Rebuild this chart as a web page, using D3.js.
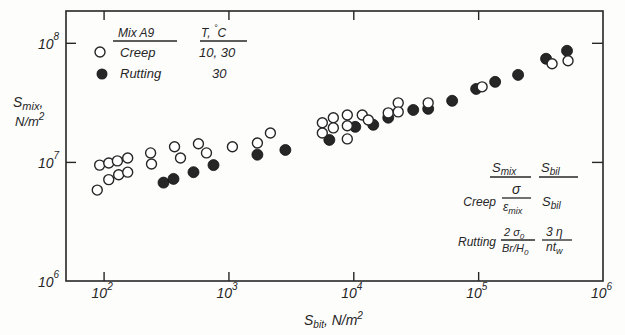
<!DOCTYPE html>
<html>
<head>
<meta charset="utf-8">
<style>
  body { margin: 0; background: #fdfdfc; }
  svg text { font-family: "Liberation Sans", Arial, sans-serif; font-style: italic; fill: #262626; }
</style>
</head>
<body>
<svg id="chart" width="625" height="335"></svg>
<script src="https://cdn.jsdelivr.net/npm/d3@7"></script>
<script>
// S_bit (N/m^2) and S_mix (N/m^2)
const creepSbit = [89, 110, 132, 156, 93, 110, 129, 156, 238, 242, 370, 413, 575, 667, 1076, 1706, 2168,
                   5650, 6920, 8955, 11800, 13200, 5650, 6920, 8955, 8955, 19050, 22900, 22900, 39800, 107600, 391000, 525000];
const creepSmix = [5.8e6, 7.1e6, 7.8e6, 8.2e6, 9.4e6, 9.8e6, 1.02e7, 1.08e7, 1.19e7, 9.6e6, 1.34e7, 1.08e7, 1.42e7, 1.19e7, 1.34e7, 1.44e7, 1.75e7,
                   2.13e7, 2.35e7, 2.48e7, 2.48e7, 2.25e7, 1.75e7, 1.93e7, 2.01e7, 1.56e7, 2.58e7, 3.13e7, 2.63e7, 3.13e7, 4.27e7, 6.67e7, 7.06e7];
const ruttingSbit = [302, 363, 525, 759, 1706, 2858, 6430, 10370, 14450, 19050, 30200, 39800, 61900, 96400, 136800, 208900, 350000, 515000];
const ruttingSmix = [6.7e6, 7.2e6, 8.2e6, 9.4e6, 1.15e7, 1.26e7, 1.53e7, 1.97e7, 2.05e7, 2.35e7, 2.73e7, 2.79e7, 3.26e7, 4.1e7, 4.7e7, 5.38e7, 7.35e7, 8.57e7];

const xTicks = [1e2, 1e3, 1e4, 1e5, 1e6];
const yTicks = [1e6, 1e7, 1e8];

const svg = d3.select("#chart");
const x = d3.scaleLog().domain([50, 1e6]).range([66, 603]);
const y = d3.scaleLog().domain([1e6, 1.85e8]).range([281, 11]);
const ink = "#262626";
const exp = v => Math.round(Math.log10(v));

// frame
svg.append("rect")
  .attr("x", x.range()[0]).attr("y", y.range()[1])
  .attr("width", x.range()[1] - x.range()[0]).attr("height", y.range()[0] - y.range()[1])
  .attr("fill", "none").attr("stroke", ink).attr("stroke-width", 1.6);

// inward ticks on all four sides
const inner = xTicks.filter(t => t < 1e6);
const innerY = yTicks.filter(t => t > 1e6);
const tickAxes = [
  [d3.axisBottom(x).tickValues(inner), `translate(0,${y.range()[0]})`, -9],
  [d3.axisTop(x).tickValues(inner), `translate(0,${y.range()[1]})`, -9],
  [d3.axisLeft(y).tickValues(innerY), `translate(${x.range()[0]},0)`, -10],
  [d3.axisRight(y).tickValues(innerY), `translate(${x.range()[1]},0)`, -11]
];
tickAxes.forEach(([ax, tr, sz]) => {
  const g = svg.append("g").attr("transform", tr)
    .call(ax.tickSize(sz).tickFormat(""));
  g.select(".domain").remove();
  g.selectAll("line").attr("stroke", ink).attr("stroke-width", 1.4);
});

// tick labels 10^n
const xl = svg.append("g").selectAll("text").data(xTicks).join("text")
  .attr("x", d => x(d) - 12).attr("y", 298).attr("font-size", 14);
xl.append("tspan").text("10");
xl.append("tspan").attr("dy", -8).attr("font-size", 10).text(d => exp(d));

const yl = svg.append("g").selectAll("text").data(yTicks).join("text")
  .attr("x", 38).attr("y", d => y(d) + 6).attr("font-size", 14);
yl.append("tspan").text("10");
yl.append("tspan").attr("dy", -9).attr("font-size", 10).text(d => exp(d));

// axis titles
const yt = svg.append("text").attr("x", 13).attr("y", 107).attr("font-size", 14);
yt.append("tspan").text("S");
yt.append("tspan").attr("dy", 3).attr("font-size", 11).text("mix");
yt.append("tspan").attr("dy", -3).text(",");
const yt2 = svg.append("text").attr("x", 15).attr("y", 126).attr("font-size", 13);
yt2.append("tspan").text("N/m");
yt2.append("tspan").attr("dy", -6).attr("font-size", 10).text("2");

const xt = svg.append("text").attr("x", 304).attr("y", 325).attr("font-size", 14);
xt.append("tspan").text("S");
xt.append("tspan").attr("dy", 3).attr("font-size", 10).text("bit");
xt.append("tspan").attr("dy", -3).text(", N/m");
xt.append("tspan").attr("dy", -6).attr("font-size", 10).text("2");

// points: filled first, open on top
svg.append("g").selectAll("circle").data(d3.zip(ruttingSbit, ruttingSmix)).join("circle")
  .attr("cx", d => x(d[0])).attr("cy", d => y(d[1])).attr("r", 5.5)
  .attr("fill", ink).attr("stroke", "#111").attr("stroke-width", 0.8);
svg.append("g").selectAll("circle").data(d3.zip(creepSbit, creepSmix)).join("circle")
  .attr("cx", d => x(d[0])).attr("cy", d => y(d[1])).attr("r", 5)
  .attr("fill", "#fff").attr("stroke", ink).attr("stroke-width", 1.4);

// legend
const lg = svg.append("g");
lg.append("text").attr("x", 118).attr("y", 37).attr("font-size", 12).text("Mix A9");
lg.append("line").attr("x1", 113).attr("x2", 177).attr("y1", 41).attr("y2", 41).attr("stroke", ink).attr("stroke-width", 1.4);
const tc = lg.append("text").attr("x", 201).attr("y", 37).attr("font-size", 12);
tc.append("tspan").text("T, ");
tc.append("tspan").attr("dy", -6).attr("font-size", 9).text("°");
tc.append("tspan").attr("dy", 6).text("C");
lg.append("line").attr("x1", 200).attr("x2", 247).attr("y1", 41).attr("y2", 41).attr("stroke", ink).attr("stroke-width", 1.4);
lg.append("circle").attr("cx", 100).attr("cy", 52).attr("r", 5).attr("fill", "#fff").attr("stroke", ink).attr("stroke-width", 1.4);
lg.append("circle").attr("cx", 102).attr("cy", 74).attr("r", 5.5).attr("fill", ink);
lg.append("text").attr("x", 120).attr("y", 57).attr("font-size", 13).text("Creep");
lg.append("text").attr("x", 120).attr("y", 78).attr("font-size", 13).text("Rutting");
lg.append("text").attr("x", 199).attr("y", 57).attr("font-size", 13).text("10, 30");
lg.append("text").attr("x", 212).attr("y", 78).attr("font-size", 13).text("30");

// definitions table
const tb = svg.append("g");
const sub = (sel, big, small, fs) => {
  sel.append("tspan").text(big);
  sel.append("tspan").attr("dy", 3).attr("font-size", fs - 3).text(small);
};
const rule = (x1, x2, yy) => tb.append("line").attr("x1", x1).attr("x2", x2).attr("y1", yy).attr("y2", yy)
  .attr("stroke", ink).attr("stroke-width", 1.3);
sub(tb.append("text").attr("x", 492).attr("y", 172).attr("font-size", 13), "S", "mix", 13);
rule(490, 531, 177);
sub(tb.append("text").attr("x", 541).attr("y", 172).attr("font-size", 13), "S", "bil", 13);
rule(539, 578, 177);

tb.append("text").attr("x", 496).attr("y", 206).attr("font-size", 12).attr("text-anchor", "end").text("Creep");
tb.append("text").attr("x", 512).attr("y", 194).attr("font-size", 14).text("σ");
rule(502, 531, 198);
sub(tb.append("text").attr("x", 503).attr("y", 211).attr("font-size", 12), "ε", "mix", 12);
sub(tb.append("text").attr("x", 542).attr("y", 206).attr("font-size", 13), "S", "bil", 13);

tb.append("text").attr("x", 496).attr("y", 246).attr("font-size", 12).attr("text-anchor", "end").text("Rutting");
const num = tb.append("text").attr("x", 504).attr("y", 236).attr("font-size", 11);
num.append("tspan").text("2 σ");
num.append("tspan").attr("dy", 3).attr("font-size", 8).text("0");
rule(501, 535, 240);
const den = tb.append("text").attr("x", 502).attr("y", 252).attr("font-size", 11);
den.append("tspan").text("Br/H");
den.append("tspan").attr("dy", 3).attr("font-size", 8).text("0");
tb.append("text").attr("x", 546).attr("y", 236).attr("font-size", 12).text("3 η");
rule(542, 572, 240);
const nt = tb.append("text").attr("x", 546).attr("y", 251).attr("font-size", 12);
nt.append("tspan").text("nt");
nt.append("tspan").attr("dy", 3).attr("font-size", 9).text("w");
</script>
</body>
</html>
